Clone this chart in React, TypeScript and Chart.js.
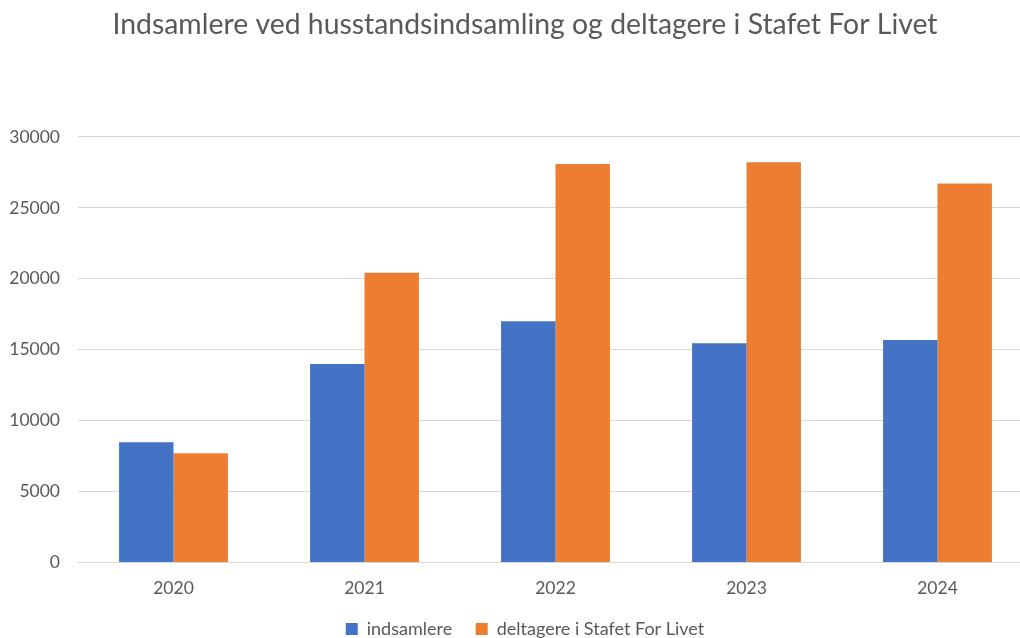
import React, { useEffect, useRef } from "react";
import { Chart, registerables } from "chart.js";

Chart.register(...registerables);

const title = "Indsamlere ved husstandsindsamling og deltagere i Stafet For Livet";
const categories = ["2020", "2021", "2022", "2023", "2024"];
const seriesNames = ["indsamlere", "deltagere i Stafet For Livet"];
const indsamlere = [8480, 14000, 17000, 15450, 15680];
const deltagere = [7700, 20420, 28100, 28220, 26720];
const yMin = 0;
const yMax = 30000;
const yStep = 5000;

const FONT = "Lato, 'Noto Sans', sans-serif";
const TEXT = "#595959";

export default function App() {
  const ref = useRef<HTMLCanvasElement | null>(null);

  useEffect(() => {
    if (!ref.current) return;
    const chart = new Chart(ref.current, {
      type: "bar",
      data: {
        labels: categories,
        datasets: [
          { label: seriesNames[0], data: indsamlere, backgroundColor: "#4472C4", borderWidth: 0 },
          { label: seriesNames[1], data: deltagere, backgroundColor: "#ED7D31", borderWidth: 0 },
        ],
      },
      options: {
        responsive: false,
        animation: false,
        devicePixelRatio: 1,
        layout: { padding: { left: 0, right: 0, top: 0, bottom: 0 } },
        datasets: { bar: { categoryPercentage: 0.57, barPercentage: 1 } },
        plugins: {
          title: {
            display: true,
            text: title,
            color: TEXT,
            font: { family: FONT, size: 28.4, weight: "normal" },
            padding: { top: 8, bottom: 94.9 },
          },
          legend: {
            display: true,
            position: "bottom",
            labels: {
              color: TEXT,
              font: { family: FONT, size: 18 },
              boxWidth: 12,
              boxHeight: 12,
              padding: 23.5,
            },
          },
          tooltip: { enabled: false },
        },
        scales: {
          x: {
            grid: { display: false, drawTicks: false },
            border: { display: false },
            ticks: { color: TEXT, font: { family: FONT, size: 17.5 }, padding: 15 },
            afterFit: (s: any) => { s.height = 34; },
          },
          y: {
            min: yMin,
            max: yMax,
            grid: { color: "#D9D9D9", lineWidth: 1, drawTicks: false },
            border: { display: false },
            ticks: {
              stepSize: yStep,
              color: TEXT,
              font: { family: FONT, size: 17.5 },
              padding: 18,
              callback: (v: any) => String(v),
            },
            afterFit: (s: any) => { s.width = 78; },
          },
          yr: {
            position: "right",
            display: true,
            grid: { display: false, drawTicks: false },
            border: { display: false },
            ticks: { display: false },
            afterFit: (s: any) => { s.width = 17; },
          },
        },
      },
    });
    return () => chart.destroy();
  }, []);

  return (
    <div style={{ position: "fixed", left: 0, top: 0, width: 1020, height: 638, overflow: "hidden", background: "#fff" }}>
      <canvas ref={ref} width={1050} height={648} style={{ display: "block", width: 1050, height: 648 }} />
    </div>
  );
}
